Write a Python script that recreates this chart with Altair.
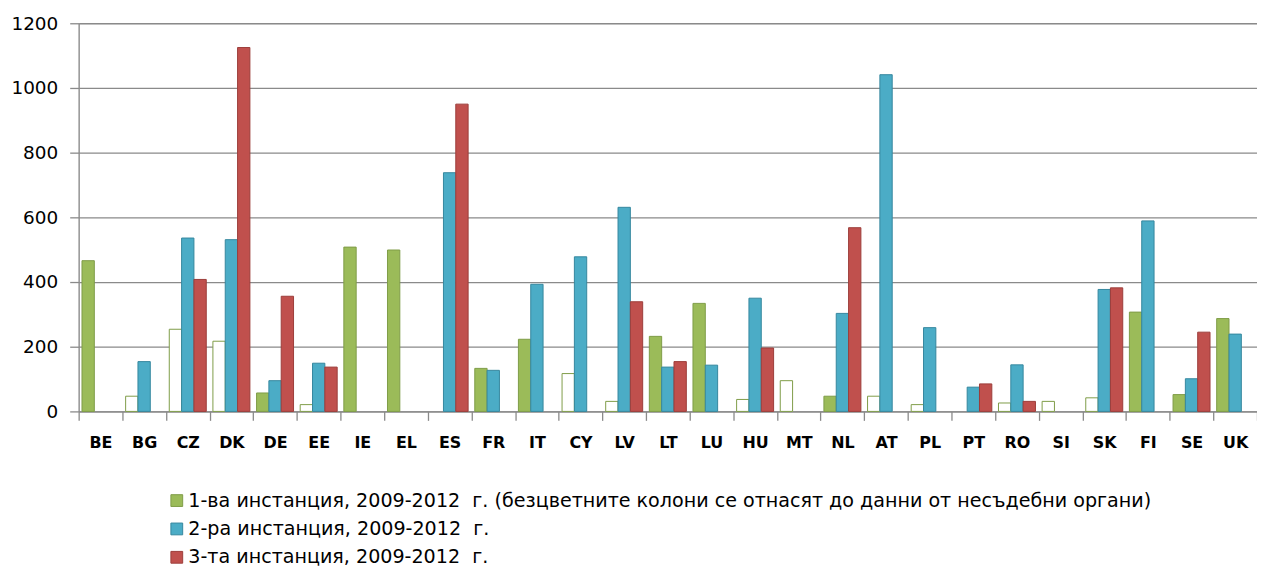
import altair as alt
import pandas as pd

countries = ["BE", "BG", "CZ", "DK", "DE", "EE", "IE", "EL", "ES", "FR", "IT", "CY", "LV", "LT",
             "LU", "HU", "MT", "NL", "AT", "PL", "PT", "RO", "SI", "SK", "FI", "SE", "UK"]
first_inst = [466, 47, 254, 217, 57, 21, 508, 499, None, 133, 223, 117, 31, 232,
              334, 37, 95, 47, 47, 21, None, 26, 31, 42, 307, 52, 287]
first_hollow = [0, 1, 1, 1, 0, 1, 0, 0, 0, 0, 0, 1, 1, 0,
                0, 1, 1, 0, 1, 1, 0, 1, 1, 1, 0, 0, 0]
second_inst = [None, 154, 536, 531, 95, 149, None, None, 738, 127, 393, 478, 631, 137,
               143, 350, None, 303, 1041, 259, 75, 144, None, 377, 589, 101, 239]
third_inst = [None, None, 408, 1125, 356, 137, None, None, 950, None, None, None, 339, 154,
              None, 196, None, 568, None, None, 85, 31, None, 382, None, 245, None]

series_names = [
    "1-ва инстанция, 2009-2012\u00a0 г. (безцветните колони се отнасят до данни от несъдебни органи)",
    "2-ра инстанция, 2009-2012\u00a0 г.",
    "3-та инстанция, 2009-2012\u00a0 г.",
]
fill_colors = ["#9BBB59", "#4BACC6", "#C0504D"]
stroke_colors = ["#7F9C48", "#35879E", "#9C3D3A"]

rows = []
for i, c in enumerate(countries):
    for s, vals in enumerate([first_inst, second_inst, third_inst]):
        v = vals[i]
        if v is None:
            continue
        rows.append({
            "country": c,
            "series": series_names[s],
            "value": v,
            "hollow": first_hollow[i] if s == 0 else 0,
        })
df = pd.DataFrame(rows)

FONT = "DejaVu Sans"
GRID = "#8A8A8A"

legend_cfg = dict(title=None, orient="none", legendX=89, legendY=470,
                  direction="vertical", symbolType="square",
                  symbolSize=140, symbolStrokeWidth=1,
                  labelFont=FONT, labelFontSize=19.2,
                  labelColor="#000000", labelLimit=2000,
                  labelOffset=2, rowPadding=8.5, padding=0)

chart = alt.Chart(df).mark_bar(strokeWidth=1).encode(
    x=alt.X("country:N", sort=countries, title=None,
            scale=alt.Scale(paddingInner=0, paddingOuter=0),
            axis=alt.Axis(labelAngle=0, labelFont=FONT, labelFontSize=16, labelFontWeight="bold",
                          labelColor="#000000", labelPadding=14, tickBand="extent", tickSize=9,
                          tickColor=GRID, tickWidth=1.3, domainColor=GRID, domainWidth=1.3,
                          grid=False)),
    xOffset=alt.XOffset("series:N", sort=series_names,
                        scale=alt.Scale(paddingInner=0, paddingOuter=0.27)),
    y=alt.Y("value:Q", title=None,
            scale=alt.Scale(domain=[0, 1200], nice=False),
            axis=alt.Axis(values=[0, 200, 400, 600, 800, 1000, 1200], format="d", labelFont=FONT,
                          labelFontSize=18.5, labelColor="#000000", labelPadding=12, tickSize=9,
                          tickColor=GRID, tickWidth=1.3, domainColor=GRID, domainWidth=1.3,
                          gridColor=GRID, gridWidth=1.3)),
    fill=alt.condition("datum.hollow == 1", alt.value("#FFFFFF"),
                       alt.Fill("series:N", sort=series_names,
                                scale=alt.Scale(domain=series_names, range=fill_colors),
                                legend=alt.Legend(**legend_cfg))),
    stroke=alt.Stroke("series:N", sort=series_names,
                      scale=alt.Scale(domain=series_names, range=stroke_colors),
                      legend=alt.Legend(**legend_cfg)),
).properties(
    width=1184,
    height=390,
    autosize=alt.AutoSizeParams(type="none"),
    padding={"left": 71, "top": 14, "right": 0, "bottom": 156},
).configure_view(stroke=None).configure(background="#FFFFFF")

chart.save("out.html", embed_options={"renderer": "svg", "actions": False})
